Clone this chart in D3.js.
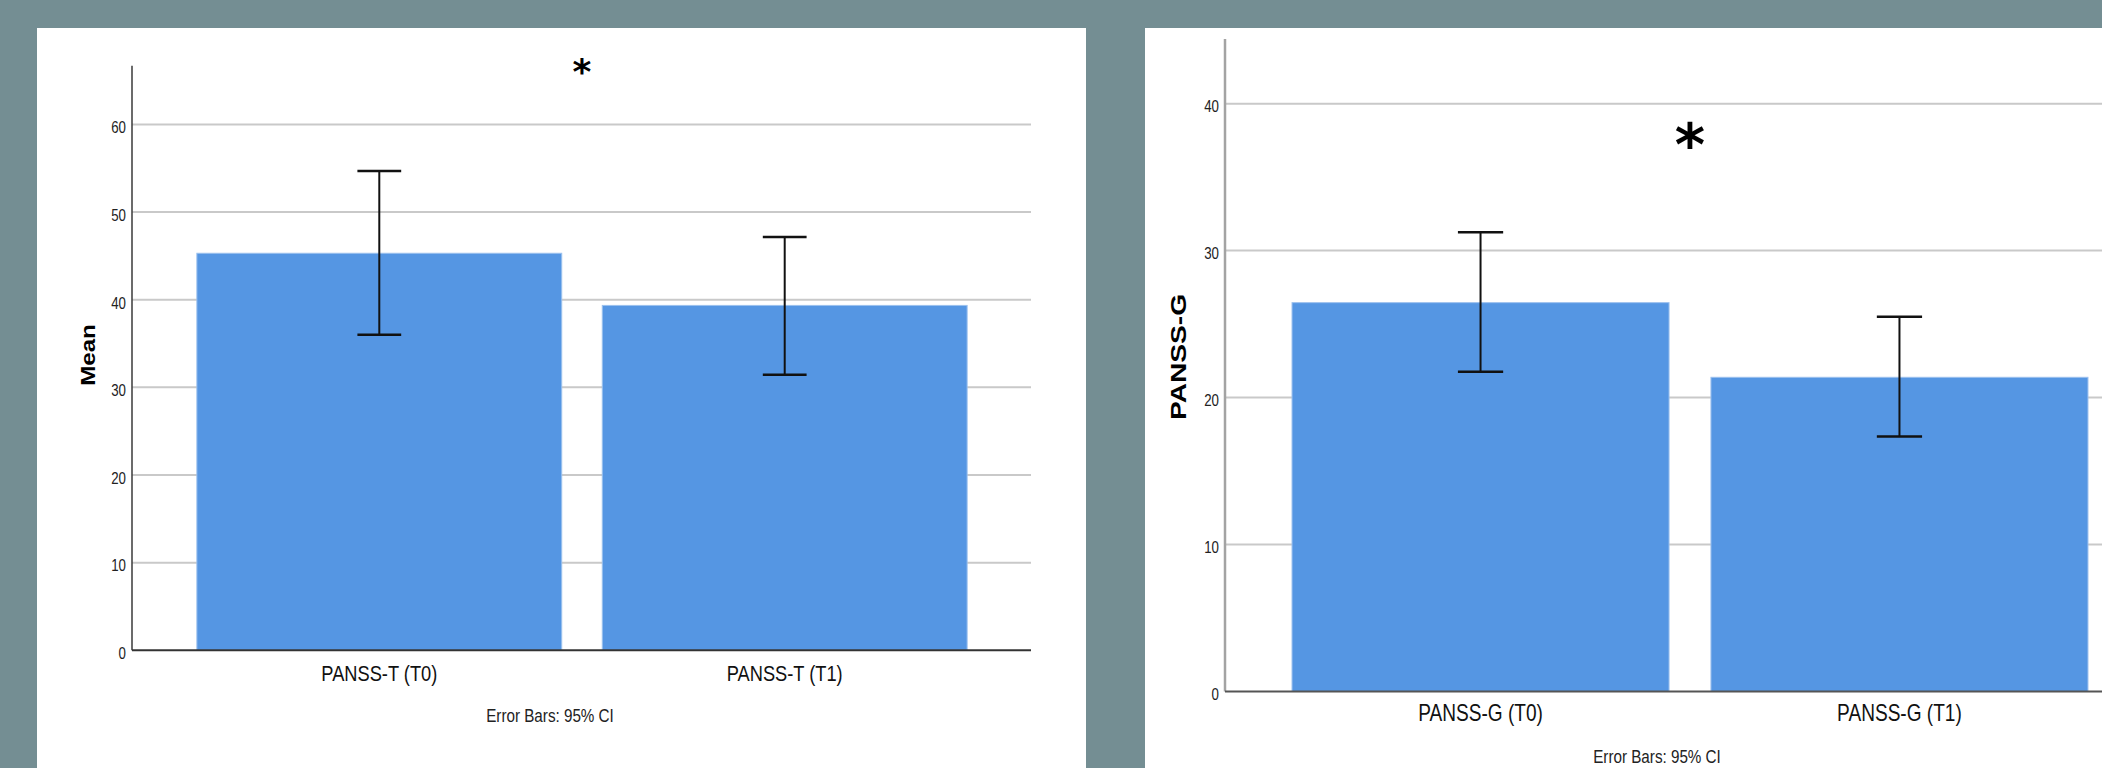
<!DOCTYPE html>
<html>
<head>
<meta charset="utf-8">
<script src="https://cdn.jsdelivr.net/npm/d3@7"></script>
<style>
  html, body { margin: 0; padding: 0; background: #748e93; }
  svg { display: block; }
</style>
</head>
<body>
<svg id="chart" width="2102" height="768"></svg>
<script>
// PANSS total score, baseline (T0) and follow-up (T1): means with 95% CI
const panssTCategories = ["PANSS-T (T0)", "PANSS-T (T1)"];
const panssTMeans = [45.3, 39.35];
const panssTLower = [36.0, 31.45];
const panssTUpper = [54.7, 47.15];
const panssTTicks = [0, 10, 20, 30, 40, 50, 60];

// PANSS general psychopathology subscale, T0 and T1: means with 95% CI
const panssGCategories = ["PANSS-G (T0)", "PANSS-G (T1)"];
const panssGMeans = [26.46, 21.38];
const panssGLower = [21.75, 17.35];
const panssGUpper = [31.25, 25.5];
const panssGTicks = [0, 10, 20, 30, 40];

const svg = d3.select("#chart");
const sansFont = '"Liberation Sans", Arial, sans-serif';
// condensed look for the axis and caption text
const narrowScale = 0.83;

svg.append("rect").attr("width", 2102).attr("height", 768).attr("fill", "#748e93");

function drawPanel(cfg) {
  const g = svg.append("g");
  g.append("rect")
    .attr("x", cfg.panel[0]).attr("y", cfg.panel[1])
    .attr("width", cfg.panel[2]).attr("height", cfg.panel[3])
    .attr("fill", "#ffffff");

  const x = d3.scaleBand()
    .domain(cfg.categories)
    .range(cfg.xRange)
    .paddingInner(0.1)
    .paddingOuter(0.16);
  const y = d3.scaleLinear().domain(cfg.yDomain).range(cfg.yRange);

  // horizontal gridlines
  g.append("g").selectAll("line")
    .data(cfg.ticks.filter(t => t > 0))
    .join("line")
    .attr("x1", cfg.xRange[0]).attr("x2", cfg.gridEnd)
    .attr("y1", d => y(d)).attr("y2", d => y(d))
    .attr("stroke", "#c9c9c9").attr("stroke-width", 2);

  // bars
  const rows = cfg.categories.map((c, i) => ({
    cat: c, mean: cfg.means[i], lo: cfg.lower[i], hi: cfg.upper[i]
  }));
  g.append("g").selectAll("rect")
    .data(rows)
    .join("rect")
    .attr("x", d => x(d.cat))
    .attr("y", d => y(d.mean))
    .attr("width", x.bandwidth())
    .attr("height", d => y(0) - y(d.mean))
    .attr("fill", "#5596e3")
    .attr("stroke", "#9cc1ee")
    .attr("stroke-width", 1);

  // y axis (labels only, no tick marks)
  const yAxis = d3.axisLeft(y).tickValues(cfg.ticks).tickSize(0).tickPadding(0);
  const ya = g.append("g")
    .attr("transform", `translate(${cfg.xRange[0]},0)`)
    .call(yAxis);
  ya.select(".domain").remove();
  ya.selectAll("text")
    .attr("x", null)
    .attr("transform", `translate(-6,0) scale(${narrowScale},1)`)
    .attr("font-family", sansFont)
    .attr("font-size", 16)
    .attr("dy", "0.52em")
    .attr("fill", "#222");
  g.append("line")
    .attr("x1", cfg.xRange[0]).attr("x2", cfg.xRange[0])
    .attr("y1", y(cfg.yDomain[1])).attr("y2", y(0))
    .attr("stroke", cfg.yAxisColor).attr("stroke-width", cfg.yAxisWidth);

  // x axis
  const xAxis = d3.axisBottom(x).tickSize(0).tickPadding(0);
  const xa = g.append("g")
    .attr("transform", `translate(0,${y(0)})`)
    .call(xAxis);
  xa.select(".domain").remove();
  xa.selectAll("text")
    .attr("font-family", sansFont)
    .attr("font-size", cfg.xLabelSize)
    .attr("fill", "#111")
    .attr("dy", null)
    .attr("y", null)
    .attr("transform", `translate(0,${cfg.xLabelOffset}) scale(${narrowScale},1)`);
  g.append("line")
    .attr("x1", cfg.xRange[0]).attr("x2", cfg.gridEnd)
    .attr("y1", y(0)).attr("y2", y(0))
    .attr("stroke", cfg.xAxisColor).attr("stroke-width", 2);

  // 95% CI error bars
  const cap = x.bandwidth() * 0.12;
  const eb = g.append("g").selectAll("g").data(rows).join("g")
    .attr("transform", d => `translate(${x(d.cat) + x.bandwidth() / 2},0)`);
  eb.append("line")
    .attr("x1", 0).attr("x2", 0)
    .attr("y1", d => y(d.hi)).attr("y2", d => y(d.lo))
    .attr("stroke", "#111").attr("stroke-width", 2);
  eb.append("line")
    .attr("x1", -cap / 2).attr("x2", cap / 2)
    .attr("y1", d => y(d.hi)).attr("y2", d => y(d.hi))
    .attr("stroke", "#111").attr("stroke-width", 2.5);
  eb.append("line")
    .attr("x1", -cap / 2).attr("x2", cap / 2)
    .attr("y1", d => y(d.lo)).attr("y2", d => y(d.lo))
    .attr("stroke", "#111").attr("stroke-width", 2.5);

  // significance marker centred between the two bars
  const mid = (x(cfg.categories[0]) + x(cfg.categories[1]) + x.bandwidth()) / 2;
  g.append("text")
    .attr("x", mid).attr("y", cfg.starY)
    .attr("text-anchor", "middle")
    .attr("font-family", '"DejaVu Sans", sans-serif')
    .attr("font-weight", "bold")
    .attr("font-size", cfg.starSize)
    .attr("fill", "#000")
    .text("*");

  // y axis title
  g.append("text")
    .attr("transform", `translate(${cfg.titleX},${cfg.titleY}) rotate(-90) scale(${cfg.titleStretch},1)`)
    .attr("text-anchor", "middle")
    .attr("font-family", sansFont)
    .attr("font-weight", "bold")
    .attr("font-size", cfg.titleSize)
    .attr("fill", "#000")
    .text(cfg.title);

  // caption
  g.append("text")
    .attr("transform", `translate(${cfg.captionX},${cfg.captionY}) scale(0.87,1)`)
    .attr("text-anchor", "middle")
    .attr("font-family", sansFont)
    .attr("font-size", 17.5)
    .attr("fill", "#222")
    .text("Error Bars: 95% CI");
}

drawPanel({
  panel: [37, 28, 1049, 740],
  categories: panssTCategories,
  means: panssTMeans, lower: panssTLower, upper: panssTUpper,
  ticks: panssTTicks,
  xRange: [132, 1032], gridEnd: 1031,
  yDomain: [0, 66.7], yRange: [650.3, 65.7],
  yAxisColor: "#3a3a3a", yAxisWidth: 1.5, xAxisColor: "#333",
  xLabelOffset: 31, xLabelSize: 22,
  starY: 84, starSize: 36,
  title: "Mean", titleX: 94.5, titleY: 355, titleStretch: 1.15, titleSize: 21,
  captionX: 550, captionY: 722
});

drawPanel({
  panel: [1145, 28, 957, 740],
  categories: panssGCategories,
  means: panssGMeans, lower: panssGLower, upper: panssGUpper,
  ticks: panssGTicks,
  xRange: [1225, 2155], gridEnd: 2102,
  yDomain: [0, 44.4], yRange: [691.5, 39],
  yAxisColor: "#a3a3a3", yAxisWidth: 2.5, xAxisColor: "#555",
  xLabelOffset: 29.5, xLabelSize: 23,
  starY: 165, starSize: 58,
  title: "PANSS-G", titleX: 1185.5, titleY: 357, titleStretch: 1.28, titleSize: 22,
  captionX: 1657, captionY: 763
});
</script>
</body>
</html>
